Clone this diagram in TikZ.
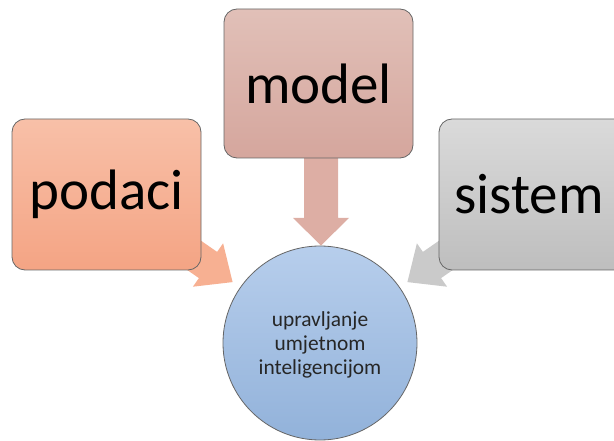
\documentclass[tikz,border=0pt]{standalone}
\usepackage{fontspec}
\setmainfont{Carlito}
\begin{document}
\begin{tikzpicture}[x=1pt,y=-1pt,
  box/.style={draw=black!60,line width=0.8pt,rounded corners=13pt},
  bigtext/.style={font=\fontsize{57}{60}\selectfont,text=black,inner sep=0pt},
  smalltext/.style={font=\fontsize{21.4}{24}\selectfont,text=black!85,align=center,inner sep=0pt}]
\definecolor{podTop}{RGB}{248,192,168}
\definecolor{podBot}{RGB}{244,164,132}
\definecolor{podArr}{RGB}{247,176,146}
\definecolor{modTop}{RGB}{225,192,184}
\definecolor{modBot}{RGB}{213,166,157}
\definecolor{modArr}{RGB}{221,174,164}
\definecolor{sisTop}{RGB}{218,218,218}
\definecolor{sisBot}{RGB}{190,190,190}
\definecolor{sisArr}{RGB}{202,202,202}
\definecolor{cirTop}{RGB}{183,206,236}
\definecolor{cirBot}{RGB}{146,178,218}
\useasboundingbox (0,0) rectangle (614,441);
\clip (0,0) rectangle (614,441);
% block arrows (drawn behind boxes)
\coordinate (pa1) at (159.7,212.0);
\coordinate (pa2) at (217.1,251.9);
\coordinate (pa3) at (223.1,243.3);
\coordinate (pa4) at (232.6,282.1);
\coordinate (pa5) at (192.9,286.7);
\coordinate (pa6) at (198.9,278.1);
\coordinate (pa7) at (141.5,238.2);
\fill[podArr] (pa1) -- (pa2) -- (pa3) -- (pa4) -- (pa5) -- (pa6) -- (pa7) -- cycle;
\coordinate (sa1) at (480.3,212.0);
\coordinate (sa2) at (422.9,251.9);
\coordinate (sa3) at (416.9,243.3);
\coordinate (sa4) at (407.4,282.1);
\coordinate (sa5) at (447.1,286.7);
\coordinate (sa6) at (441.1,278.1);
\coordinate (sa7) at (498.5,238.2);
\fill[sisArr] (sa1) -- (sa2) -- (sa3) -- (sa4) -- (sa5) -- (sa6) -- (sa7) -- cycle;
\coordinate (ma1) at (304,140);
\coordinate (ma2) at (304,218);
\coordinate (ma3) at (293,218);
\coordinate (ma4) at (321,245.5);
\coordinate (ma5) at (349,218);
\coordinate (ma6) at (338,218);
\coordinate (ma7) at (338,140);
\fill[modArr] (ma1) -- (ma2) -- (ma3) -- (ma4) -- (ma5) -- (ma6) -- (ma7) -- cycle;
% boxes
\shade[box,top color=podTop,bottom color=podBot] (12,119) rectangle (201,270);
\shade[box,top color=modTop,bottom color=modBot] (224,9) rectangle (413,158);
\shade[box,top color=sisTop,bottom color=sisBot] (439,119) rectangle (628,270);
\node[bigtext] (podaci) at (106.5,194.5) {podaci};
\node[bigtext] (model) at (318.5,84) {model};
\node[bigtext] (sistem) at (529,194.5) {sistem};
% circle
\shade[draw=black!60,line width=0.8pt,top color=cirTop,bottom color=cirBot] (320,343) circle (97);
\node[smalltext] (upr) at (320,345) {upravljanje\\umjetnom\\inteligencijom};
\end{tikzpicture}
\end{document}
